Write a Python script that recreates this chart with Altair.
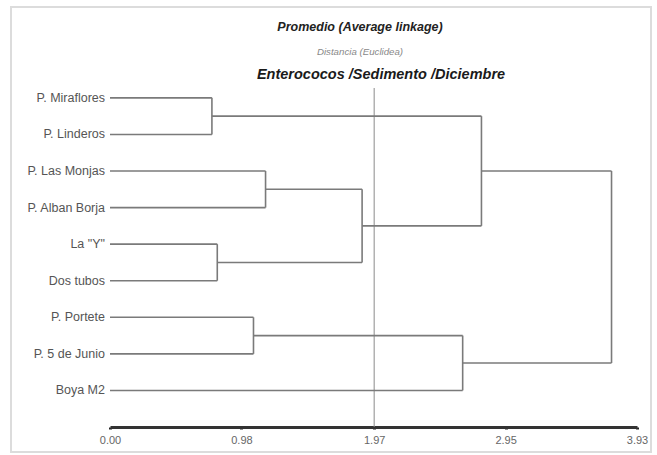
import altair as alt
import pandas as pd

# ---- data ----
leaves = ["P. Miraflores", "P. Linderos", "P. Las Monjas", "P. Alban Borja",
          'La "Y"', "Dos tubos", "P. Portete", "P. 5 de Junio", "Boya M2"]
# merges: (left child, right child, height); children < 9 are leaves, >= 9 are merge nodes (9 + index)
merge_left = [0, 2, 4, 10, 9, 6, 14, 13]
merge_right = [1, 3, 5, 11, 12, 7, 8, 15]
merge_height = [0.76, 1.16, 0.80, 1.88, 2.77, 1.07, 2.63, 3.74]
tick_values = [0.00, 0.98, 1.97, 2.95, 3.93]
cut_value = 1.97
titles = ["Promedio (Average linkage)", "Distancia  (Euclidea)", "Enterococos /Sedimento /Diciembre"]

# ---- build dendrogram segments from the structure ----
n = len(leaves)
node_y = {i: float(i) for i in range(n)}
node_h = {i: 0.0 for i in range(n)}
segs = []
for k, (l, r, h) in enumerate(zip(merge_left, merge_right, merge_height)):
    for c in (l, r):
        segs.append({"x": node_h[c], "x2": h, "y": node_y[c], "y2": node_y[c]})
    segs.append({"x": h, "x2": h, "y": node_y[l], "y2": node_y[r]})
    node_y[n + k] = (node_y[l] + node_y[r]) / 2
    node_h[n + k] = h
seg_df = pd.DataFrame(segs)
leaf_df = pd.DataFrame({"name": leaves, "y": list(range(n)), "x": [0.0] * n})

FONT = "Liberation Sans"
xscale = alt.Scale(domain=[0, 3.93], nice=False, zero=False)
yscale = alt.Scale(domain=[-0.27, 9], reverse=True, nice=False, zero=False)
xaxis = alt.Axis(values=tick_values, format=".2f", title=None, grid=False,
                 domainColor="#333333", domainWidth=3, tickColor="#222222",
                 tickWidth=3, tickSize=2, labelColor="#666666", labelFontSize=11,
                 labelFont=FONT, labelPadding=5, labelFlush=False, labelOverlap=False)

one = pd.DataFrame({"a": [0]})

frame = alt.Chart(one).mark_rect(
    fill="transparent", stroke="#dcdcdc", strokeWidth=2
).encode(x=alt.value(-99), x2=alt.value(541), y=alt.value(-81), y2=alt.value(364))

cut = alt.Chart(pd.DataFrame({"v": [cut_value]})).mark_rule(
    color="#8a8a8a", strokeWidth=1
).encode(x=alt.X("v:Q", scale=xscale, axis=xaxis))

lines = alt.Chart(seg_df).mark_rule(color="#7a7a7a", strokeWidth=1.6).encode(
    x=alt.X("x:Q", scale=xscale, axis=xaxis),
    x2="x2:Q",
    y=alt.Y("y:Q", scale=yscale, axis=None),
    y2="y2:Q",
)

labels = alt.Chart(leaf_df).mark_text(
    align="right", baseline="middle", dx=-5, font=FONT, fontSize=12.5, color="#555555"
).encode(x=alt.X("x:Q", scale=xscale, axis=xaxis),
         y=alt.Y("y:Q", scale=yscale, axis=None), text="name:N")

t1 = alt.Chart(pd.DataFrame({"t": [titles[0]]})).mark_text(
    align="center", baseline="middle", font=FONT, fontSize=12.5, fontStyle="italic",
    fontWeight="bold", color="#222222"
).encode(x=alt.value(250), y=alt.value(-61), text="t:N")

t2 = alt.Chart(pd.DataFrame({"t": [titles[1]]})).mark_text(
    align="center", baseline="middle", font=FONT, fontSize=9.7, fontStyle="italic",
    color="#888888"
).encode(x=alt.value(250), y=alt.value(-36), text="t:N")

t3 = alt.Chart(pd.DataFrame({"t": [titles[2]]})).mark_text(
    align="center", baseline="middle", font=FONT, fontSize=14.5, fontStyle="italic",
    fontWeight="bold", color="#1a1a1a"
).encode(x=alt.value(271), y=alt.value(-13), text="t:N")

chart = alt.layer(frame, cut, lines, labels, t1, t2, t3).properties(
    width=527, height=339,
    autosize=alt.AutoSizeParams(type="none"),
    padding={"left": 110, "top": 88, "right": 20, "bottom": 28},
).configure(background="white").configure_view(stroke="transparent", strokeWidth=0)

chart.save("out.html", embed_options={"renderer": "svg", "actions": False})
